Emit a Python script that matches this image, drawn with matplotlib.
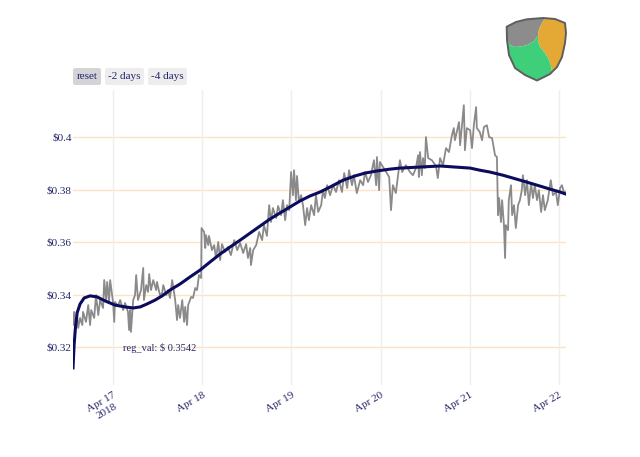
import numpy as np
import pandas as pd
import matplotlib
matplotlib.use('Agg')
import matplotlib.pyplot as plt
from matplotlib.patches import Polygon, FancyBboxPatch

# --- data (hours after 2018-04-17 00:00, price in $) ---
price_hours = [-10.8, -10.5, -10.2, -9.7, -9.4, -8.9, -8.3, -8.1, -7.3, -6.7,
               -6.2, -5.9, -5.1, -4.6, -4.0, -3.5, -2.7, -2.4, -1.9, -1.6,
               -1.1, -0.8, 0.0, 0.3, 0.5, 1.3, 1.9, 2.7, 3.2, 4.0,
               4.3, 4.6, 4.8, 5.4, 5.9, 6.2, 6.7, 7.5, 8.1, 8.3,
               8.9, 9.4, 9.7, 10.2, 10.8, 11.6, 11.8, 12.6, 13.2, 13.5,
               14.3, 14.8, 15.3, 15.9, 16.7, 17.2, 17.5, 18.0, 18.6, 19.1,
               19.4, 19.9, 20.2, 21.0, 21.5, 22.1, 22.6, 23.1, 23.7, 23.8,
               24.5, 24.8, 25.0, 25.6, 25.8, 26.6, 27.2, 27.7, 28.3, 28.8,
               29.3, 30.1, 30.9, 31.7, 32.6, 33.4, 34.2, 35.0, 35.8, 36.3,
               36.9, 37.1, 37.7, 38.5, 39.3, 40.1, 40.6, 41.4, 42.0, 42.5,
               43.0, 43.9, 44.4, 45.2, 45.7, 46.3, 46.8, 47.4, 47.9, 48.4,
               48.7, 49.2, 49.5, 50.0, 50.6, 51.1, 51.7, 52.2, 52.7, 53.3,
               54.1, 54.6, 55.2, 56.0, 56.5, 57.0, 57.6, 58.4, 59.2, 60.0,
               60.8, 61.6, 62.2, 63.0, 63.5, 64.3, 64.8, 65.6, 66.5, 67.3,
               67.8, 68.6, 69.4, 70.2, 70.8, 71.0, 71.6, 71.8, 73.2, 74.3,
               74.8, 75.3, 76.1, 76.7, 77.2, 77.8, 78.8, 79.9, 80.7, 81.5,
               82.1, 82.3, 82.6, 83.1, 83.4, 83.9, 84.2, 84.8, 85.8, 86.9,
               87.4, 88.0, 88.8, 89.6, 90.4, 91.2, 91.7, 92.0, 92.6, 93.1,
               93.4, 93.9, 94.4, 94.7, 95.2, 96.1, 96.6, 97.1, 97.7, 97.9,
               98.7, 99.3, 99.8, 100.6, 101.2, 102.0, 102.8, 103.3, 103.6, 103.9,
               104.4, 104.7, 105.2, 105.5, 105.7, 106.3, 106.5, 107.1, 107.4, 107.9,
               108.4, 109.0, 109.5, 110.0, 110.3, 110.9, 111.4, 111.9, 112.5, 113.0,
               113.5, 114.1, 114.6, 115.2, 115.7, 116.2, 117.0, 117.8, 118.4, 119.2,
               119.7, 120.3, 120.8, 121.3, 121.9]
price_vals = [0.3285, 0.3335, 0.3266, 0.3323, 0.3274, 0.3312, 0.3285, 0.3335, 0.3297, 0.3361,
              0.3285, 0.3342, 0.3312, 0.3399, 0.3323, 0.3380, 0.3350, 0.3456, 0.3380, 0.3449,
              0.3373, 0.3456, 0.3369, 0.3297, 0.3373, 0.3358, 0.3380, 0.3342, 0.3369, 0.3335,
              0.3266, 0.3342, 0.3259, 0.3380, 0.3399, 0.3475, 0.3380, 0.3418, 0.3502, 0.3380,
              0.3437, 0.3411, 0.3479, 0.3418, 0.3456, 0.3418, 0.3449, 0.3399, 0.3407, 0.3437,
              0.3399, 0.3418, 0.3388, 0.3456, 0.3380, 0.3304, 0.3361, 0.3312, 0.3380, 0.3297,
              0.3354, 0.3285, 0.3361, 0.3392, 0.3388, 0.3426, 0.3418, 0.3475, 0.3464, 0.3654,
              0.3639, 0.3578, 0.3627, 0.3589, 0.3624, 0.3570, 0.3589, 0.3540, 0.3601, 0.3532,
              0.3593, 0.3563, 0.3582, 0.3551, 0.3608, 0.3570, 0.3597, 0.3559, 0.3593, 0.3540,
              0.3578, 0.3513, 0.3570, 0.3589, 0.3639, 0.3608, 0.3665, 0.3624, 0.3741, 0.3677,
              0.3730, 0.3692, 0.3738, 0.3703, 0.3760, 0.3684, 0.3741, 0.3722, 0.3867, 0.3779,
              0.3874, 0.3760, 0.3852, 0.3753, 0.3779, 0.3741, 0.3665, 0.3730, 0.3684, 0.3741,
              0.3703, 0.3779, 0.3715, 0.3741, 0.3798, 0.3768, 0.3817, 0.3779, 0.3817, 0.3791,
              0.3836, 0.3791, 0.3863, 0.3806, 0.3874, 0.3817, 0.3855, 0.3787, 0.3836, 0.3817,
              0.3867, 0.3829, 0.3855, 0.3912, 0.3817, 0.3924, 0.3798, 0.3905, 0.3874, 0.3848,
              0.3722, 0.3817, 0.3787, 0.3855, 0.3912, 0.3867, 0.3893, 0.3867, 0.3855, 0.3882,
              0.3931, 0.3848, 0.3943, 0.3855, 0.3920, 0.3882, 0.4000, 0.3920, 0.3912, 0.3890,
              0.3844, 0.3920, 0.3893, 0.3958, 0.3943, 0.4007, 0.4034, 0.3988, 0.4026, 0.4057,
              0.3969, 0.4045, 0.4121, 0.3950, 0.4034, 0.4026, 0.3958, 0.4045, 0.4114, 0.4034,
              0.4019, 0.3988, 0.4038, 0.4045, 0.4000, 0.3996, 0.3931, 0.3924, 0.3703, 0.3768,
              0.3677, 0.3760, 0.3665, 0.3540, 0.3665, 0.3646, 0.3760, 0.3817, 0.3703, 0.3741,
              0.3654, 0.3741, 0.3760, 0.3798, 0.3855, 0.3779, 0.3836, 0.3741, 0.3825, 0.3768,
              0.3817, 0.3760, 0.3798, 0.3715, 0.3779, 0.3722, 0.3760, 0.3836, 0.3779, 0.3791,
              0.3741, 0.3806, 0.3817, 0.3791, 0.3791]

reg_hours = [-10.8, -10.5, -10.2, -9.7, -8.9, -7.8, -6.2, -4.3, -2.2, 0.5,
             3.2, 5.4, 7.3, 9.1, 11.3, 13.2, 15.3, 18.0, 20.7, 23.4,
             26.1, 28.8, 31.5, 34.2, 36.9, 39.6, 42.2, 44.9, 47.6, 50.3,
             53.0, 55.7, 58.4, 61.9, 65.1, 67.8, 71.0, 74.5, 77.2, 82.6,
             88.0, 92.0, 96.1, 98.7, 101.4, 104.9, 107.6, 110.3, 114.1, 117.6,
             120.3, 121.9]
reg_vals = [0.3122, 0.3209, 0.3266, 0.3331, 0.3365, 0.3388, 0.3396, 0.3392, 0.3377, 0.3361,
            0.3354, 0.3350, 0.3354, 0.3365, 0.3380, 0.3396, 0.3418, 0.3441, 0.3468, 0.3494,
            0.3525, 0.3555, 0.3582, 0.3608, 0.3635, 0.3662, 0.3688, 0.3711, 0.3734, 0.3757,
            0.3776, 0.3791, 0.3810, 0.3836, 0.3852, 0.3863, 0.3871, 0.3878, 0.3882, 0.3886,
            0.3890, 0.3886, 0.3882, 0.3874, 0.3867, 0.3855, 0.3844, 0.3833, 0.3817, 0.3802,
            0.3791, 0.3783]

y_ticks = [0.32, 0.34, 0.36, 0.38, 0.40]
y_labels = ['$0.32', '$0.34', '$0.36', '$0.38', '$0.4']
x_ticks = ['2018-04-17', '2018-04-18', '2018-04-19', '2018-04-20', '2018-04-21', '2018-04-22']
x_labels = ['Apr 17\n2018', 'Apr 18', 'Apr 19', 'Apr 20', 'Apr 21', 'Apr 22']
buttons = ['reset', '-2 days', '-4 days']
reg_note = 'reg_val: $ 0.3542'

base = pd.Timestamp('2018-04-17')
price_t = base + pd.to_timedelta(price_hours, unit='h')
reg_t = base + pd.to_timedelta(reg_hours, unit='h')

txt_color = '#25256a'
plt.rcParams['font.family'] = ['Liberation Serif', 'DejaVu Serif']

W, H = 640, 457
fig = plt.figure(figsize=(W / 100, H / 100), dpi=100)
ax = fig.add_axes([73 / W, 1 - 385 / H, (566 - 73) / W, (385 - 90) / H])

ax.plot(price_t, price_vals, color='#8a8a8a', lw=1.3, zorder=2)
ax.plot(reg_t, reg_vals, color='#0c0c5e', lw=2.2, zorder=3)

ax.set_xlim(price_t[0], price_t[-1])
ax.set_ylim(0.3057, 0.4179)

ax.set_yticks(y_ticks)
ax.set_yticklabels(y_labels)
ax.set_xticks(pd.to_datetime(x_ticks))
ax.set_xticklabels(x_labels, rotation=30, ha='right', va='top',
                   rotation_mode='anchor', multialignment='center')
ax.tick_params(length=0, labelsize=8, colors=txt_color)
ax.tick_params(axis='y', pad=1)
ax.tick_params(axis='x', pad=4)

# grid: light orange rows, light grey columns
for v in y_ticks:
    ax.axhline(v, color='#fde2c6', lw=1.0, zorder=1, snap=True)
for d in pd.to_datetime(x_ticks):
    ax.axvline(d, color='#eeeeee', lw=1.0, zorder=1, snap=True)
for s in ax.spines.values():
    s.set_visible(False)

ax.text(base + pd.Timedelta(hours=12.4), 0.3199, reg_note, ha='center', va='center',
        fontsize=7.5, color=txt_color, zorder=4)

# range buttons (pixel boxes: left, width)
btn_box = [(73, 28), (105, 39), (148, 39)]
btn_bg = ['#d4d4d8', '#ededed', '#ededed']
for label, (bx, bw), bg in zip(buttons, btn_box, btn_bg):
    fig.patches.append(FancyBboxPatch((bx / W, 1 - 85 / H), bw / W, 17 / H,
                                      boxstyle='round,pad=0,rounding_size=0.004',
                                      transform=fig.transFigure, fc=bg, ec='none'))
    fig.text((bx + bw / 2) / W, 1 - 76.5 / H, label, ha='center', va='center',
             fontsize=8, color=txt_color)

# NEM logo (top right), drawn in a small axes of its own
lg = fig.add_axes([505 / W, 1 - 82 / H, 64 / W, 66 / H])
lg.set_xlim(0, 64)
lg.set_ylim(0, 66)
lg.axis('off')
gray_pts = [(1.7, 55.3), (11, 60), (21.7, 62.7), (38, 64), (40, 63.5), (37, 59), (34, 53),
            (33, 46), (28, 40), (22, 37), (16, 35.5), (10, 35), (5, 37), (2, 42)]
orange_pts = [(40, 63.5), (50, 63), (60, 59), (61, 49), (60, 39), (57, 25), (52, 14), (47, 10),
              (46, 16), (44, 22), (40, 29), (35, 35), (33, 41), (33, 46), (34, 53), (37, 59)]
green_pts = [(2, 42), (5, 37), (10, 35), (16, 35.5), (22, 37), (28, 40), (33, 46), (33, 41),
             (35, 35), (40, 29), (44, 22), (46, 16), (47, 10), (40, 5), (32, 2), (20, 7),
             (10, 14), (4, 27), (2.5, 37)]
outline_pts = [(1.7, 55.3), (11, 60), (21.7, 62.7), (38, 64), (50, 63), (60, 59), (61, 49),
               (60, 39), (57, 25), (52, 15), (45, 8), (32, 1.5), (20, 7), (10, 14), (4, 27),
               (2, 42)]
lg.add_patch(Polygon(gray_pts, closed=True, fc='#8c8c8c', ec='none'))
lg.add_patch(Polygon(orange_pts, closed=True, fc='#e3a934', ec='none'))
lg.add_patch(Polygon(green_pts, closed=True, fc='#3fcf7b', ec='none'))
lg.add_patch(Polygon(outline_pts, closed=True, fc='none', ec='#5e5e5e', lw=1.4, joinstyle='round'))

fig.savefig('out.png', dpi=100)
